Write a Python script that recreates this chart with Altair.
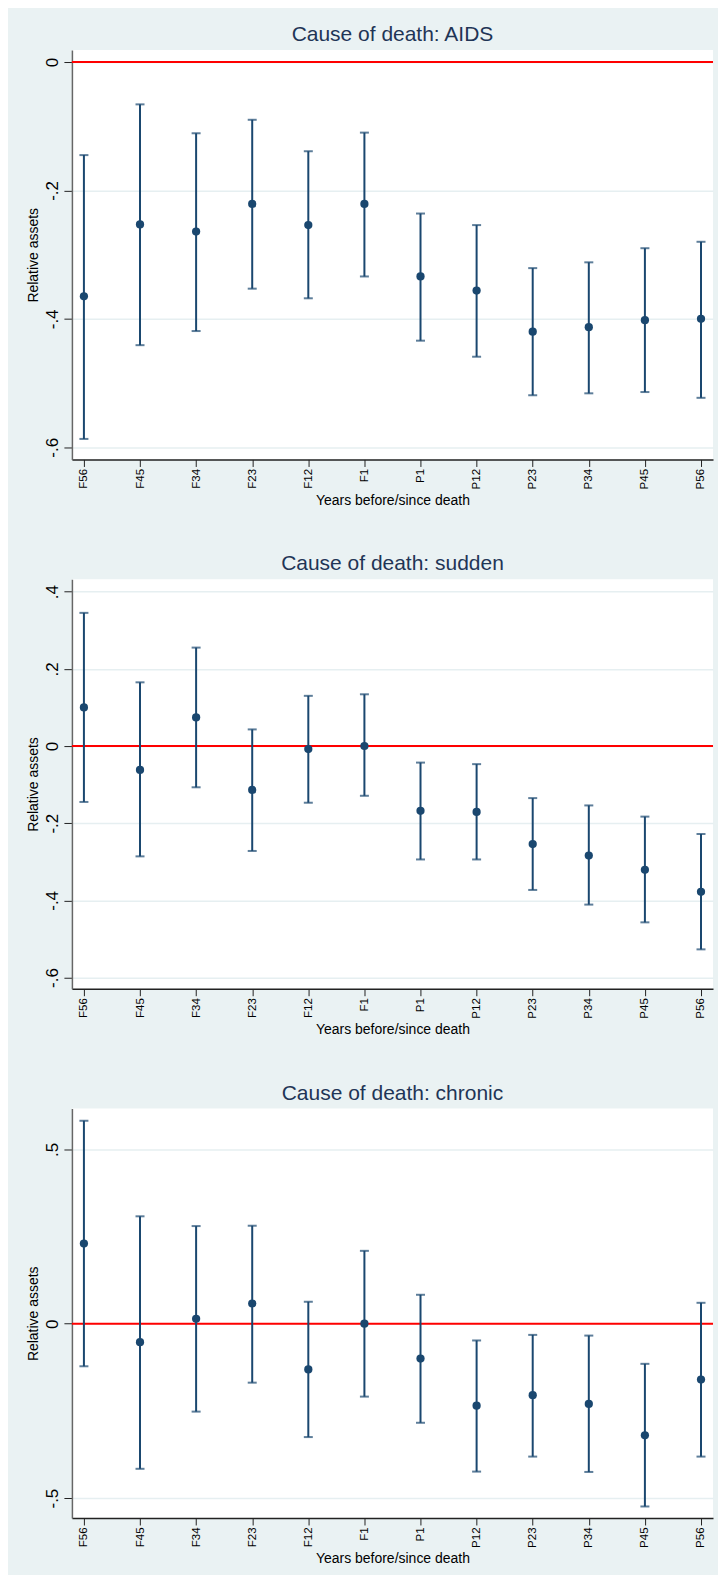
import altair as alt
import pandas as pd

periods = ["F56", "F45", "F34", "F23", "F12", "F1", "P1", "P12", "P23", "P34", "P45", "P56"]

aids_est = [-0.365, -0.253, -0.264, -0.221, -0.254, -0.221, -0.334, -0.356, -0.420, -0.413, -0.402, -0.400]
aids_lo = [-0.587, -0.441, -0.419, -0.353, -0.368, -0.334, -0.434, -0.459, -0.519, -0.516, -0.514, -0.523]
aids_hi = [-0.145, -0.066, -0.111, -0.090, -0.139, -0.110, -0.236, -0.254, -0.321, -0.312, -0.290, -0.280]

sudden_est = [0.100, -0.062, 0.074, -0.114, -0.008, 0.000, -0.168, -0.171, -0.254, -0.284, -0.321, -0.378]
sudden_lo = [-0.145, -0.286, -0.107, -0.272, -0.147, -0.129, -0.294, -0.294, -0.373, -0.411, -0.457, -0.527]
sudden_hi = [0.345, 0.165, 0.255, 0.043, 0.130, 0.134, -0.043, -0.047, -0.135, -0.154, -0.183, -0.228]

chronic_est = [0.230, -0.053, 0.014, 0.058, -0.131, 0.000, -0.100, -0.235, -0.205, -0.230, -0.320, -0.160]
chronic_lo = [-0.122, -0.416, -0.252, -0.169, -0.325, -0.209, -0.284, -0.424, -0.381, -0.425, -0.524, -0.381]
chronic_hi = [0.582, 0.308, 0.280, 0.281, 0.063, 0.209, 0.083, -0.048, -0.032, -0.034, -0.115, 0.060]

titles = ["Cause of death: AIDS", "Cause of death: sudden", "Cause of death: chronic"]
y_domains = [[-0.619, 0.0186], [-0.629, 0.432], [-0.557, 0.617]]
y_ticks = [[0, -0.2, -0.4, -0.6], [0.4, 0.2, 0, -0.2, -0.4, -0.6], [0.5, 0, -0.5]]

NAVY = "#1A476F"
FONT = "Liberation Sans"
LABEL_EXPR = "datum.value == 0 ? '0' : replace(toString(round(datum.value*10)/10), '0.', '.')"


def panel(title, est, lo, hi, ydom, yticks):
    df = pd.DataFrame({"period": periods, "est": est, "lo": lo, "hi": hi})
    xaxis = alt.Axis(
        title="Years before/since death", labelAngle=-90, labelFontSize=11.5,
        labelColor="#000000", labelPadding=2, tickSize=7, tickColor="#222222",
        domainColor="#222222", domainWidth=1.5, titleFontSize=14,
        titleFontWeight="normal", titleColor="#000000", titlePadding=5,
        grid=False, labelFont=FONT, titleFont=FONT, minExtent=29, maxExtent=29,
    )
    yaxis = alt.Axis(
        title="Relative assets", values=yticks, labelExpr=LABEL_EXPR, labelAngle=-90,
        labelAlign="center", labelBaseline="bottom", labelFontSize=17,
        labelColor="#000000", labelPadding=2, tickSize=8, tickColor="#222222",
        domainColor="#666666", domainWidth=1.5, titleFontSize=14,
        titleFontWeight="normal", titleColor="#000000", titlePadding=4,
        grid=True, gridColor="#E6EFF1", gridWidth=1.5, labelFont=FONT,
        titleFont=FONT, minExtent=27, maxExtent=27,
    )
    xs = alt.Scale(type="point", padding=0.214)
    ys = alt.Scale(domain=ydom, nice=False, zero=False)
    x = alt.X("period:O", sort=periods, scale=xs, axis=xaxis)
    base = alt.Chart(df)
    zero = alt.Chart(pd.DataFrame({"z": [0.0]})).mark_rule(color="#FF0000", strokeWidth=2).encode(
        y=alt.Y("z:Q", scale=ys, axis=yaxis)
    )
    bars = base.mark_rule(color=NAVY, strokeWidth=2).encode(
        x=x, y=alt.Y("lo:Q", scale=ys, axis=yaxis), y2="hi:Q"
    )
    cap_lo = base.mark_tick(color=NAVY, thickness=2, size=9).encode(
        x=x, y=alt.Y("lo:Q", scale=ys, axis=yaxis)
    )
    cap_hi = base.mark_tick(color=NAVY, thickness=2, size=9).encode(
        x=x, y=alt.Y("hi:Q", scale=ys, axis=yaxis)
    )
    pts = base.mark_circle(color=NAVY, size=68, opacity=1).encode(
        x=x, y=alt.Y("est:Q", scale=ys, axis=yaxis)
    )
    return alt.layer(zero, bars, cap_lo, cap_hi, pts).properties(
        width=642, height=410,
        title=alt.TitleParams(
            text=title, fontSize=21, font=FONT, color="#1F3556", fontWeight="normal",
            anchor="middle", frame="group", offset=-12, baseline="alphabetic",
        ),
    )


panels = [
    panel(titles[0], aids_est, aids_lo, aids_hi, y_domains[0], y_ticks[0]),
    panel(titles[1], sudden_est, sudden_lo, sudden_hi, y_domains[1], y_ticks[1]),
    panel(titles[2], chronic_est, chronic_lo, chronic_hi, y_domains[2], y_ticks[2]),
]

chart = alt.vconcat(*panels, spacing=46).properties(
    background="#EAF2F3",
    padding={"left": 19, "top": 15, "right": 4, "bottom": 8},
).configure_view(strokeWidth=0, fill="white")

chart.save("out.html", embed_options={"renderer": "svg", "actions": False})
